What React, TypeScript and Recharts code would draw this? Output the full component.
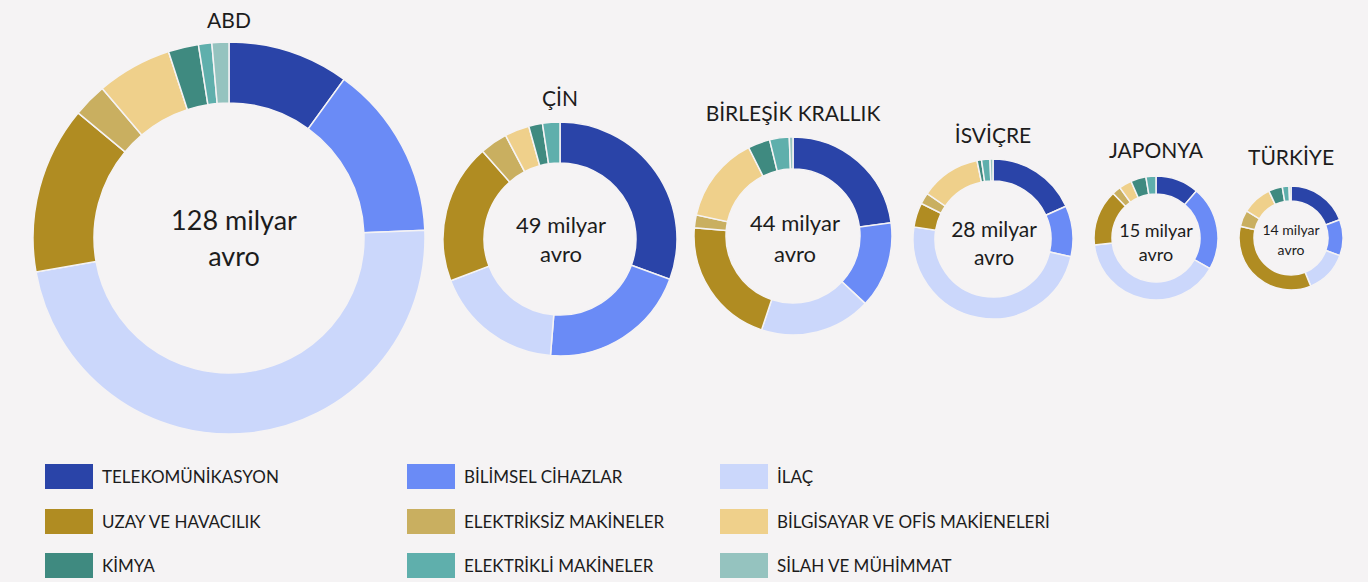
import { PieChart, Pie, Cell } from "recharts";

// sectors in drawing order (clockwise from 12 o'clock)
const categories = [
  "TELEKOMÜNİKASYON",
  "BİLİMSEL CİHAZLAR",
  "İLAÇ",
  "UZAY VE HAVACILIK",
  "ELEKTRİKSİZ MAKİNELER",
  "BİLGİSAYAR VE OFİS MAKİENELERİ",
  "KİMYA",
  "ELEKTRİKLİ MAKİNELER",
  "SİLAH VE MÜHİMMAT",
];

const COLORS = [
  "#2a44a8",
  "#6a8bf6",
  "#cbd7fb",
  "#b08c22",
  "#c9af60",
  "#efd08b",
  "#3f8a80",
  "#5fafac",
  "#95c3bf",
];

// shares (%)
const abd = [10.0, 14.4, 47.9, 13.8, 2.8, 6.2, 2.5, 1.1, 1.4];
const cin = [30.6, 20.7, 17.9, 19.3, 3.8, 3.4, 1.9, 2.4, 0];
const birlesik = [22.9, 14.1, 18.2, 21.2, 2.1, 14.2, 3.6, 3.2, 0.6];
const isvicre = [18.3, 10.3, 48.9, 4.9, 2.3, 12.2, 0.9, 1.7, 0.6];
const japonya = [11.3, 21.9, 40.0, 14.6, 2.3, 3.3, 4.0, 2.6, 0];
const turkiye = [19.3, 11.2, 13.3, 34.8, 5.1, 9.3, 4.3, 2.1, 0.6];

const countries = ["ABD", "ÇİN", "BİRLEŞİK KRALLIK", "İSVİÇRE", "JAPONYA", "TÜRKİYE"];
const totals = ["128", "49", "44", "28", "15", "14"];
const shares = [abd, cin, birlesik, isvicre, japonya, turkiye];

const BG = "#f5f3f4";

// layout of each donut
const donuts = [
  { cx: 229, cy: 238, inner: 135, outer: 196, titleY: 20, font: 27, tx: 5, l1: 220, l2: 256 },
  { cx: 560, cy: 239, inner: 76, outer: 117, titleY: 98, font: 22, tx: 1, l1: 225, l2: 254 },
  { cx: 793, cy: 236, inner: 67, outer: 99, titleY: 113, font: 22, tx: 2, l1: 223, l2: 254 },
  { cx: 993, cy: 239, inner: 58, outer: 80, titleY: 135, font: 21, tx: 1, l1: 229, l2: 257 },
  { cx: 1156, cy: 238, inner: 44, outer: 62, titleY: 150, font: 18, tx: 0, l1: 231, l2: 255 },
  { cx: 1291, cy: 238, inner: 37, outer: 52, titleY: 157, font: 14, tx: 0, l1: 230, l2: 250 },
];

const FONT = "Lato, 'Noto Sans', sans-serif";

const legendCols = [45, 407, 720];
const legendRows = [476, 521, 565];

export default function App() {
  return (
    <div
      style={{
        position: "absolute",
        left: 0,
        top: 0,
        width: 1368,
        height: 582,
        background: BG,
        fontFamily: FONT,
        color: "#1c1c1c",
        overflow: "hidden",
      }}
    >
      <PieChart width={1368} height={582} margin={{ top: 0, right: 0, bottom: 0, left: 0 }}>
        {shares.map((vals, i) => {
          const d = donuts[i];
          const data = categories.map((name, k) => ({ name, value: vals[k] }));
          return (
            <Pie
              key={countries[i]}
              data={data}
              dataKey="value"
              nameKey="name"
              cx={d.cx}
              cy={d.cy}
              innerRadius={d.inner}
              outerRadius={d.outer}
              startAngle={90}
              endAngle={-270}
              stroke={BG}
              strokeWidth={1.5}
              isAnimationActive={false}
            >
              {data.map((_, k) => (
                <Cell key={k} fill={COLORS[k]} />
              ))}
            </Pie>
          );
        })}
      </PieChart>

      {donuts.map((d, i) => (
        <div key={"t" + i}>
          <div
            style={{
              position: "absolute",
              left: d.cx - 150,
              width: 300,
              top: d.titleY - 12,
              textAlign: "center",
              fontSize: 21,
              lineHeight: "24px",
            }}
          >
            {countries[i]}
          </div>
          <div
            style={{
              position: "absolute",
              left: d.cx + d.tx - 100,
              width: 200,
              top: d.l1 - d.font * 0.6,
              textAlign: "center",
              fontSize: d.font,
              lineHeight: d.font * 1.2 + "px",
            }}
          >
            {totals[i]} milyar
          </div>
          <div
            style={{
              position: "absolute",
              left: d.cx + d.tx - 100,
              width: 200,
              top: d.l2 - d.font * 0.6,
              textAlign: "center",
              fontSize: d.font,
              lineHeight: d.font * 1.2 + "px",
            }}
          >
            avro
          </div>
        </div>
      ))}

      {categories.map((name, k) => {
        const col = k % 3;
        const row = Math.floor(k / 3);
        return (
          <div
            key={"lg" + k}
            style={{
              position: "absolute",
              left: legendCols[col],
              top: legendRows[row] - 12,
              height: 25,
              display: "flex",
              alignItems: "center",
              fontSize: 17,
            }}
          >
            <div style={{ width: 48, height: 25, background: COLORS[k], marginRight: 9 }} />
            <span>{name}</span>
          </div>
        );
      })}
    </div>
  );
}
